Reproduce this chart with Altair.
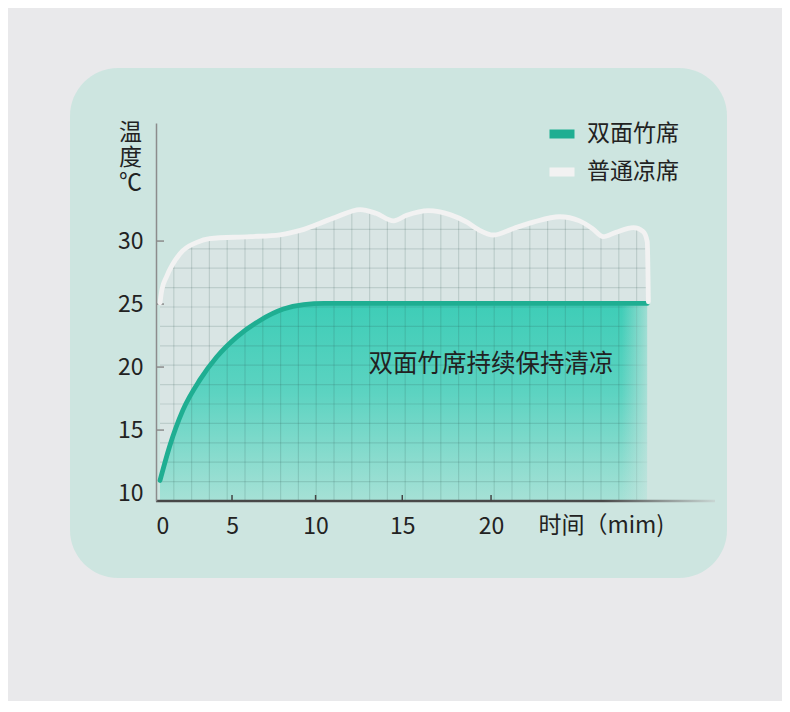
import altair as alt
import pandas as pd
import numpy as np

# ---------------- data ----------------
SERIES = ["双面竹席", "普通凉席"]

bamboo_x = [0.32, 1.0, 1.9, 3.0, 4.05, 5.3, 6.7, 8.1, 9.3, 10.5, 15.0, 20.0, 25.0, 28.6]
bamboo_y = [11.0, 13.7, 16.6, 19.0, 20.8, 22.4, 23.7, 24.6, 24.95, 25.05, 25.05, 25.05, 25.05, 25.05]

normal_x = [0.32, 0.45, 0.8, 1.7, 2.8, 3.6, 6.1, 7.9, 9.1, 11.0, 12.6, 13.5, 14.5, 15.25,
            16.5, 17.7, 18.65, 19.3, 20.15, 21.25, 22.35, 23.8, 24.9, 25.6, 26.2, 26.9,
            27.85, 28.38, 28.6, 28.66]
normal_y = [25.1, 26.1, 27.2, 29.0, 29.9, 30.2, 30.35, 30.5, 30.85, 31.8, 32.5, 32.2, 31.6, 32.05,
            32.42, 32.1, 31.5, 30.9, 30.48, 31.0, 31.5, 31.93, 31.6, 31.0, 30.35, 30.7,
            31.06, 30.75, 29.95, 25.18]

x_ticks = [0, 5, 10, 15, 20]
y_ticks = [10, 15, 20, 25, 30]
annotation = "双面竹席持续保持清凉"
x_title = "时间（mim)"
y_title = ["温", "度", "℃"]

# ---------------- layout / style ----------------
W, H = 559, 378
X_MAX, X_EXP = 32.27, 1.07
Y_MIN, Y_MAX = 9.37, 39.37
CARD = "#cde5e0"
PAGE = "#e9e9eb"
FONT = "Noto Sans CJK SC"
TXT = "#222222"

XS = alt.Scale(type="pow", exponent=X_EXP, domain=[0, X_MAX], nice=False)
YS = alt.Scale(domain=[Y_MIN, Y_MAX], nice=False, zero=False)

AX = alt.Axis(title=x_title, values=x_ticks, domain=False, ticks=False, grid=False,
              labelFont=FONT, labelFontSize=23, labelColor=TXT, labelPadding=14,
              titleFont=FONT, titleFontSize=23, titleFontWeight="normal", titleColor=TXT,
              titleX=382, titleY=24, titleAlign="left", titleBaseline="middle", zindex=1)
AY = alt.Axis(title=y_title, values=y_ticks, domainColor="#8c8c8c", domainWidth=1.5,
              ticks=False, grid=False,
              labelFont=FONT, labelFontSize=23, labelColor=TXT, labelPadding=13,
              titleFont=FONT, titleFontSize=23, titleFontWeight="normal", titleColor=TXT,
              titleAngle=0, titleX=-26, titleY=-2, titleAlign="center", titleBaseline="top",
              titleLineHeight=25, zindex=1)

def X(f):
    return alt.X(f, scale=XS, axis=AX)

def Y(f):
    return alt.Y(f, scale=YS, axis=AY)

one = pd.DataFrame({"k": [0]})
normal_df = pd.DataFrame({"x": normal_x, "y": normal_y})
bamboo_df = pd.DataFrame({"x": bamboo_x, "y": bamboo_y})
lines_df = pd.concat([
    bamboo_df.assign(series=SERIES[0]),
    normal_df.assign(series=SERIES[1]),
])

# decorative grid (uniform pixel spacing in the picture)
GX, GY = 17.8, 19.4
vx = [X_MAX * ((k * GX) / W) ** (1 / X_EXP) for k in range(1, 28)]
hy = [Y_MIN + k * GY / (H / (Y_MAX - Y_MIN)) for k in range(1, 16)]

card = alt.Chart(one).mark_rect(color=CARD, cornerRadius=48).encode(
    x=alt.value(-86), x2=alt.value(571), y=alt.value(-55), y2=alt.value(455))

gray_area = alt.Chart(normal_df).mark_area(color="#d9e5e4", interpolate="monotone").encode(
    x=X("x:Q"), y=Y("y:Q"), y2=alt.datum(Y_MIN))

teal_grad = alt.Gradient(gradient="linear", x1=0, x2=0, y1=0, y2=1, stops=[
    alt.GradientStop(color="#3ecdb7", offset=0),
    alt.GradientStop(color="#5cd3c1", offset=0.45),
    alt.GradientStop(color="#a6e1d6", offset=1)])
teal_area = alt.Chart(bamboo_df).mark_area(fill=teal_grad, interpolate="monotone").encode(
    x=X("x:Q"), y=Y("y:Q"), y2=alt.datum(Y_MIN))

vgrid = alt.Chart(pd.DataFrame({"x": vx, "y0": Y_MIN, "y1": 33.5})).mark_rule(
    color="#2c4f4b", opacity=0.16, strokeWidth=1.2).encode(
    x=X("x:Q"), y=Y("y0:Q"), y2="y1:Q")
hgrid = alt.Chart(pd.DataFrame({"y": hy, "x0": 0.32, "x1": 28.6})).mark_rule(
    color="#2c4f4b", opacity=0.16, strokeWidth=1.2).encode(
    x=X("x0:Q"), x2="x1:Q", y=Y("y:Q"))

fade_grad = alt.Gradient(gradient="linear", x1=0, x2=1, y1=0, y2=0, stops=[
    alt.GradientStop(color="rgba(205,229,224,0)", offset=0),
    alt.GradientStop(color="rgba(205,229,224,0.55)", offset=0.45),
    alt.GradientStop(color="rgba(205,229,224,1)", offset=0.75),
    alt.GradientStop(color="rgba(205,229,224,1)", offset=1)])
fade = alt.Chart(pd.DataFrame({"x0": [27.2], "x1": [29.8], "y0": [Y_MIN], "y1": [25.25]})).mark_rect(
    fill=fade_grad).encode(x=X("x0:Q"), x2="x1:Q", y=Y("y0:Q"), y2="y1:Q")

mask = alt.Chart(normal_df).mark_area(color=CARD, interpolate="monotone").encode(
    x=X("x:Q"), y=Y("y:Q"), y2=alt.datum(Y_MAX))

axis_grad = alt.Gradient(gradient="linear", x1=0, x2=1, y1=0, y2=0, stops=[
    alt.GradientStop(color="#474747", offset=0),
    alt.GradientStop(color="#4a4a4a", offset=0.8),
    alt.GradientStop(color="#c8d6d3", offset=1)])
axis_line = alt.Chart(one).mark_rect(fill=axis_grad).encode(
    x=alt.value(0), x2=alt.value(W), y=alt.value(H - 1.2), y2=alt.value(H + 1.3))

xtick = alt.Chart(pd.DataFrame({"x": x_ticks[1:]})).mark_rule(color="#444444", strokeWidth=1.5).encode(
    x=X("x:Q"), y=alt.value(H - 6), y2=alt.value(H))
ytick = alt.Chart(pd.DataFrame({"y": y_ticks[1:]})).mark_rule(color="#8c8c8c", strokeWidth=1.5).encode(
    y=Y("y:Q"), x=alt.value(1), x2=alt.value(8))

lines = alt.Chart(lines_df).mark_line(strokeWidth=4.8, interpolate="monotone", strokeCap="round").encode(
    x=X("x:Q"), y=Y("y:Q"),
    color=alt.Color("series:N",
                    scale=alt.Scale(domain=SERIES, range=["#1fae92", "#f2f2f2"]),
                    legend=alt.Legend(title=None, orient="none", legendX=389, legendY=-6,
                                      direction="vertical", symbolType="stroke",
                                      symbolSize=625, symbolStrokeWidth=9,
                                      labelFont=FONT, labelFontSize=23, labelColor=TXT,
                                      labelOffset=8, rowPadding=2, padding=0)))

text = alt.Chart(pd.DataFrame({"x": [20.0], "y": [20.15], "t": [annotation]})).mark_text(
    font=FONT, fontSize=24.5, color=TXT, align="center", baseline="middle").encode(
    x=X("x:Q"), y=Y("y:Q"), text="t:N")

chart = alt.layer(card, gray_area, teal_area, vgrid, hgrid, fade, mask, axis_line,
                  xtick, ytick, lines, text).properties(
    width=W, height=H,
    padding={"left": 148, "top": 115, "right": 67, "bottom": 200},
    autosize=alt.AutoSizeParams(type="none"),
    background=PAGE,
).configure_view(stroke=None)

chart.save("out.html", embed_options={"renderer": "svg", "actions": False})
